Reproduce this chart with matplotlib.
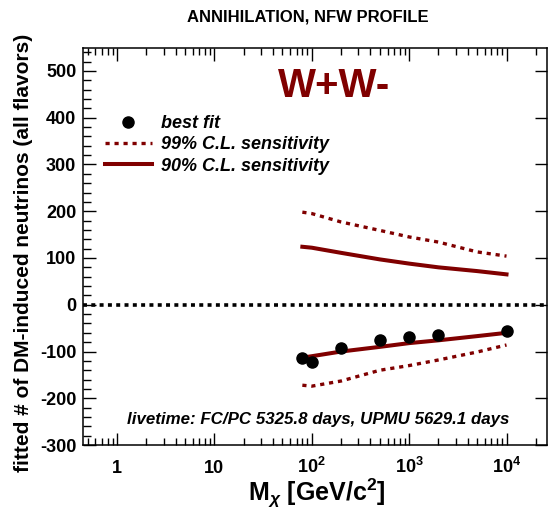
import matplotlib
matplotlib.use("Agg")
import matplotlib.pyplot as plt
from matplotlib.ticker import LogLocator, MultipleLocator, FixedLocator, NullFormatter

plt.rcParams['font.family'] = ['Liberation Sans', 'DejaVu Sans']
plt.rcParams['mathtext.fontset'] = 'custom'
plt.rcParams['mathtext.rm'] = 'Liberation Sans:bold'
plt.rcParams['mathtext.bf'] = 'Liberation Sans:bold'
plt.rcParams['mathtext.it'] = 'Liberation Sans:bold:italic'
plt.rcParams['axes.unicode_minus'] = False

# best fit points
mass_fit = [80, 100, 200, 500, 1000, 2000, 10000]
best_fit = [-113, -122, -93, -76, -69, -65, -56]

# sensitivity bands
mass_band = [80, 100, 200, 500, 1000, 2000, 5000, 10000]
upper_99 = [198, 195, 177, 159, 145, 134, 113, 104]
upper_90 = [124, 122, 111, 97, 88, 80, 72, 65]
lower_90 = [-113, -110, -100, -90, -82, -76, -67, -60]
lower_99 = [-172, -174, -163, -140, -130, -118, -101, -86]

xtick_vals = [1, 10, 100, 1000, 10000]
xtick_labels = ['1', '10', r'$\mathbf{10^{2}}$', r'$\mathbf{10^{3}}$', r'$\mathbf{10^{4}}$']

red = '#800000'

fig = plt.figure(figsize=(5.48, 5.11), dpi=100)
ax = fig.add_axes([0.152, 0.129, 0.846, 0.778])

# zero line
ax.axhline(0, color='black', lw=2.6, linestyle=(0, (1.1, 1.2)), zorder=1)

ax.plot(mass_band, upper_99, color=red, lw=2.4, linestyle=(0, (1.25, 1.45)),
        label='99% C.L. sensitivity')
ax.plot(mass_band, lower_99, color=red, lw=2.4, linestyle=(0, (1.25, 1.45)))
ax.plot(mass_band, upper_90, color=red, lw=2.9, label='90% C.L. sensitivity')
ax.plot(mass_band, lower_90, color=red, lw=2.9)
ax.plot(mass_fit, best_fit, 'o', color='black', ms=8, label='best fit', zorder=5)

ax.set_xscale('log')
ax.set_xlim(0.45, 2.6e4)
ax.set_ylim(-300, 550)

ax.xaxis.set_major_locator(FixedLocator(xtick_vals))
ax.xaxis.set_minor_locator(LogLocator(base=10, subs=range(2, 10), numticks=20))
ax.xaxis.set_minor_formatter(NullFormatter())
ax.set_xticklabels(xtick_labels)
ax.yaxis.set_major_locator(MultipleLocator(100))
ax.yaxis.set_minor_locator(MultipleLocator(20))

ax.tick_params(axis='x', which='both', direction='in', top=True, bottom=True,
               labelsize=13, pad=20, width=1)
ax.tick_params(axis='x', which='major', length=9)
ax.tick_params(axis='x', which='minor', length=5)
ax.tick_params(axis='y', which='major', direction='in', left=True, right=True,
               length=9, width=1, labelsize=13, pad=5)
ax.tick_params(axis='y', which='minor', direction='in', left=True, right=False,
               length=6, width=1)
for lbl in ax.get_xticklabels():
    lbl.set_va('baseline')
for lbl in ax.get_xticklabels() + ax.get_yticklabels():
    lbl.set_fontweight('bold')
for sp in ax.spines.values():
    sp.set_linewidth(1.1)

# legend: best fit, 99%, 90%
h, l = ax.get_legend_handles_labels()
order = [2, 0, 1]
ax.legend([h[i] for i in order], [l[i] for i in order], loc='upper left',
          bbox_to_anchor=(0.046, 0.830), frameon=False, borderpad=0,
          borderaxespad=0, handlelength=2.6, handletextpad=0.55,
          labelspacing=0.24, numpoints=1,
          prop={'size': 13, 'weight': 'bold', 'style': 'italic'})

fig.text(0.562, 0.966, 'ANNIHILATION, NFW PROFILE', ha='center', va='center',
         fontsize=12, fontweight='bold')
fig.text(0.609, 0.832, 'W+W-', ha='center', va='center', fontsize=29,
         fontweight='bold', color=red)
fig.text(0.580, 0.180, 'livetime: FC/PC 5325.8 days, UPMU 5629.1 days',
         ha='center', va='center', fontsize=12.2, fontweight='bold', style='italic')
fig.text(0.042, 0.505, 'fitted # of DM-induced neutrinos (all flavors)',
         rotation=90, ha='center', va='center', fontsize=15, fontweight='bold')
fig.text(0.578, 0.035, r'$\mathbf{M}_{\chi}$ [GeV/c$^{\mathbf{2}}$]',
         ha='center', va='center', fontsize=18, fontweight='bold')

fig.savefig('out.png', dpi=100)
